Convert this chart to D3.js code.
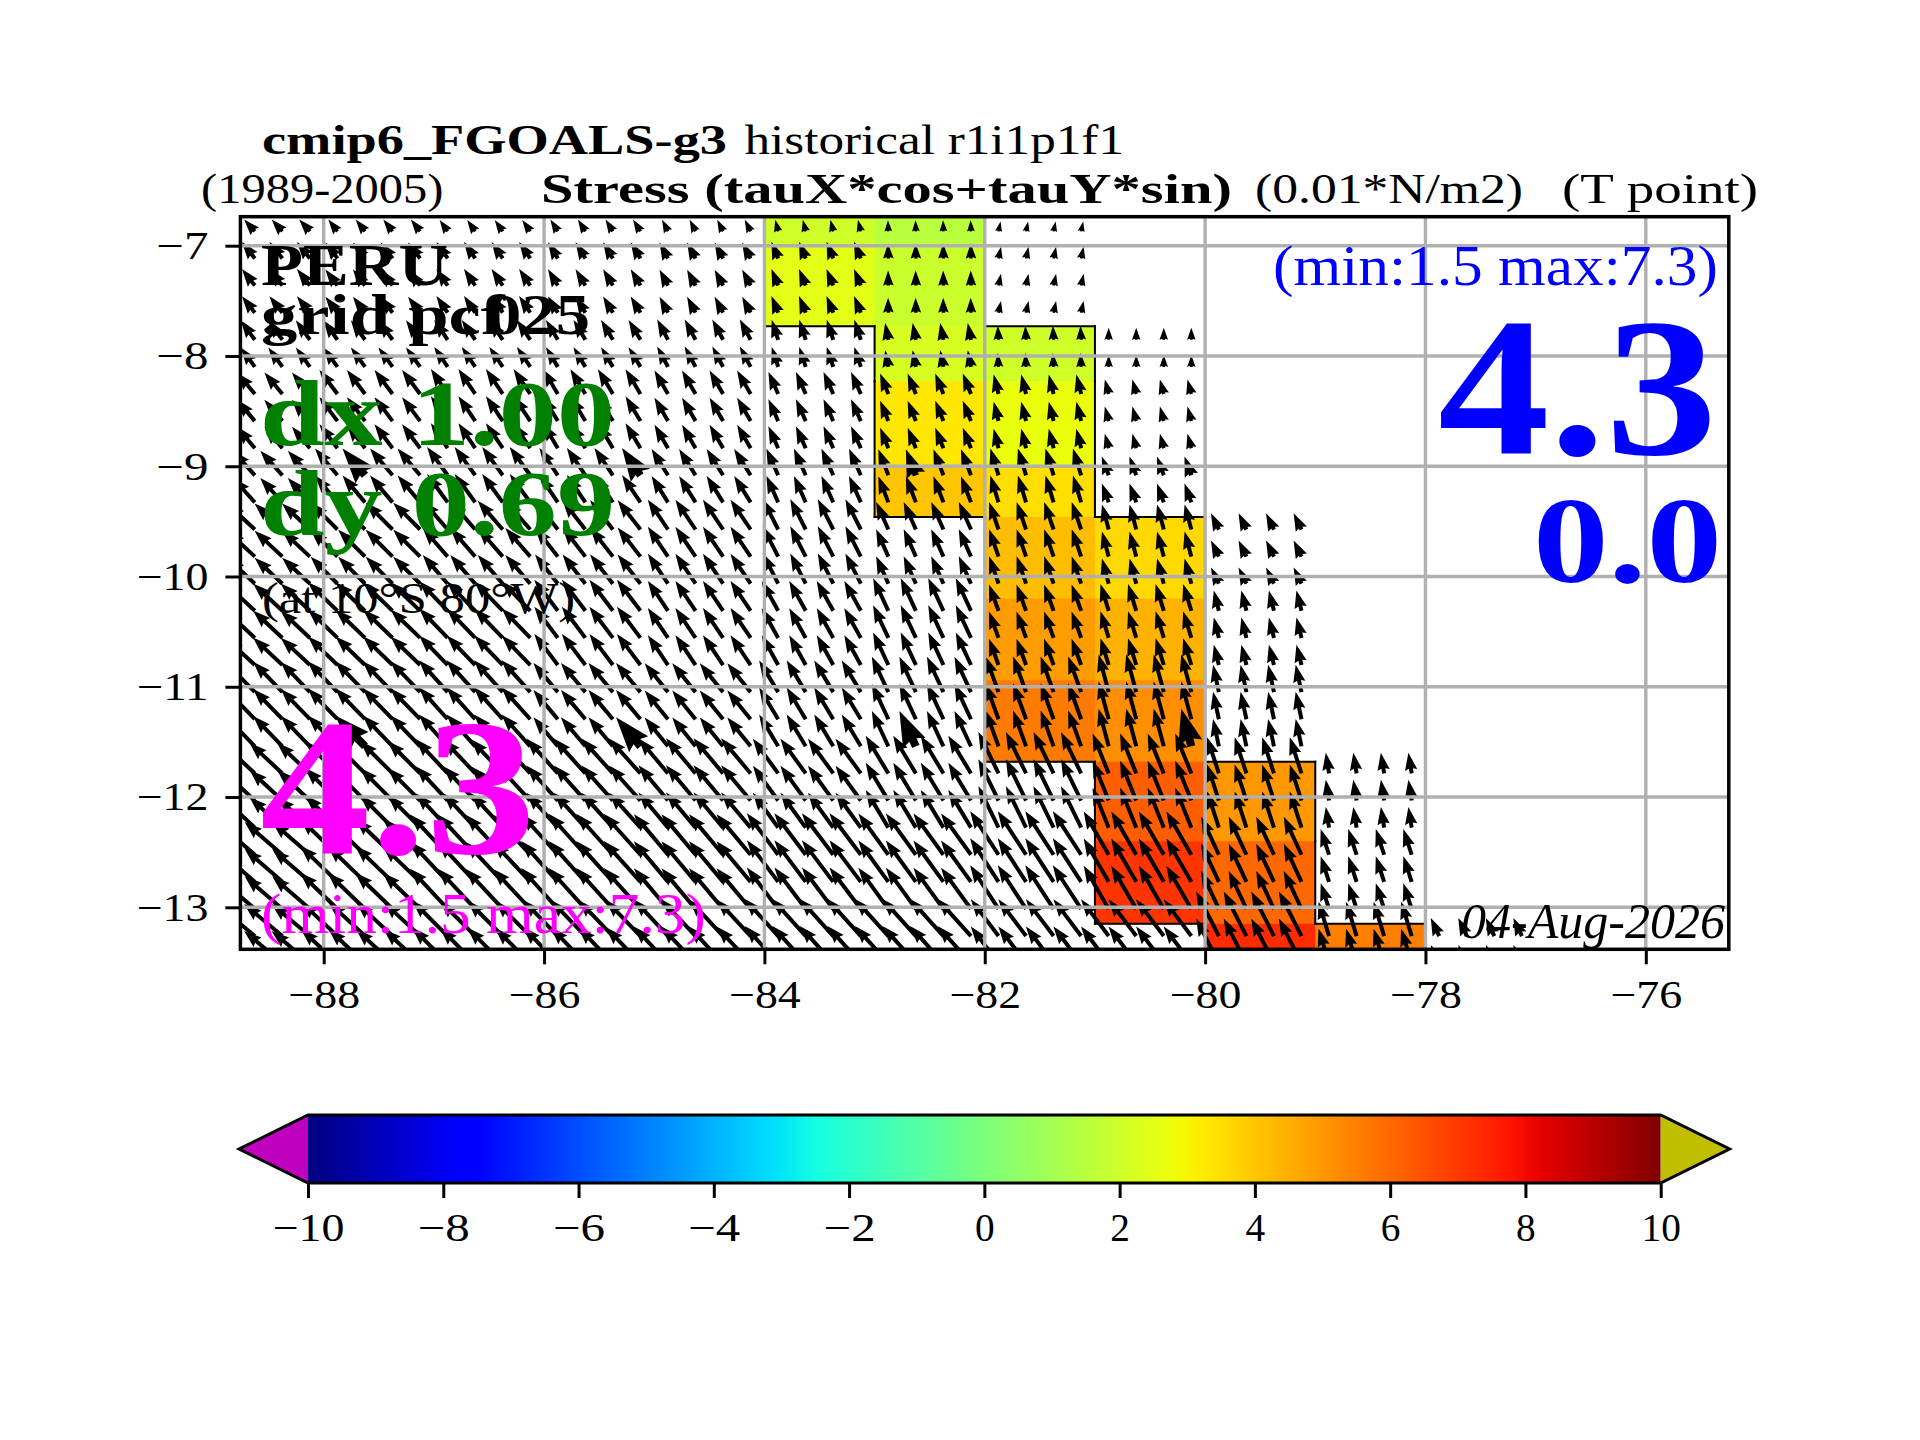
<!DOCTYPE html>
<html>
<head>
<meta charset="utf-8">
<script src="https://cdn.jsdelivr.net/npm/d3@7"></script>
<style>
  body { margin: 0; background: #fff; }
  text { font-family: "Liberation Serif", serif; }
</style>
</head>
<body>
<div id="chart"></div>
<script>
// Values. Rows are latitude bands, columns are 1 degree blocks from 89W
const lonTicks = [-88, -86, -84, -82, -80, -78, -76];
const latTicks = [-7, -8, -9, -10, -11, -12, -13];
const barTicks = [-10, -8, -6, -4, -2, 0, 2, 4, 6, 8, 10];
const bandEdges = [-6.5, -6.98, -7.73, -8.23, -8.99, -9.46, -10.2, -10.94, -11.68, -12.4, -13.15, -13.8];
const rowsPerBand = [1, 3, 2, 3, 2, 3, 3, 3, 3, 3, 2];
const bigRows = [9, 19];
const bigLons = [-87.625, -85.125, -82.625, -80.125];

// stress along the coast (0.01 N/m2), null = no colour
const stressValue = [
  [null, null, null, null, null, 2.0, 1.5],
  [null, null, null, null, null, 2.5, 1.9],
  [null, null, null, null, null, null, 2.2, 2.0],
  [null, null, null, null, null, null, 3.3, 2.7],
  [null, null, null, null, null, null, 4.0, 3.5],
  [null, null, null, null, null, null, null, 4.2, 3.6],
  [null, null, null, null, null, null, null, 4.9, 4.4],
  [null, null, null, null, null, null, null, 5.6, 5.2],
  [null, null, null, null, null, null, null, null, 6.2, 5.0],
  [null, null, null, null, null, null, null, null, 7.1, 6.0],
  [null, null, null, null, null, null, null, null, null, 7.3, 5.5]
];

// arrow magnitude
const arrowSpeed = [
  [1.6, 1.5, 1.4, 1.4, 1.3, 1.2, 1.1, 1.0],
  [2.1, 2.0, 2.0, 1.9, 1.8, 1.8, 1.5, 1.2],
  [2.4, 2.4, 2.4, 2.3, 2.3, 2.1, 1.7, 1.4, 1.2],
  [2.8, 3.0, 3.0, 2.9, 2.7, 2.4, 2.2, 2.0, 1.5],
  [3.3, 3.5, 3.5, 3.3, 3.1, 2.9, 2.8, 2.8, 2.0],
  [3.8, 3.8, 3.8, 3.7, 3.6, 3.4, 3.0, 2.9, 2.6, 1.8],
  [4.0, 4.1, 4.1, 3.9, 3.6, 3.4, 3.6, 2.8, 2.8, 2.1],
  [4.2, 4.3, 4.3, 3.8, 3.7, 3.7, 3.9, 3.8, 3.9, 2.8],
  [4.5, 4.6, 4.7, 4.7, 4.6, 4.3, 4.4, 4.6, 4.3, 3.8, 2.1],
  [5.0, 5.2, 5.5, 5.5, 5.3, 5.2, 5.1, 5.2, 5.0, 4.2, 2.7],
  [5.0, 5.0, 5.0, 5.0, 5.0, 5.0, 5.0, 4.6, 4.6, 5.0, 3.6, 2.0]
];

// arrow direction, degrees west of north
const arrowAngle = [
  [42, 38, 35, 32, 27, 14, 2, -12],
  [38, 37, 34, 31, 28, 22, 1, -12],
  [36, 36, 34, 31, 28, 18, 11, 3, 0],
  [40, 37, 34, 31, 30, 24, 22, 14, 15],
  [42, 40, 36, 34, 32, 24, 21, 17, 20],
  [47, 45, 41, 38, 34, 27, 24, 19, 15, 26],
  [47, 46, 44, 37, 34, 29, 25, 20, 17, 14],
  [44, 44, 42, 40, 39, 31, 25, 20, 15, 12],
  [47, 45, 43, 42, 40, 36, 31, 26, 22, 18, 9],
  [49, 46, 43, 42, 40, 37, 36, 33, 30, 25, 18],
  [50, 47, 45, 44, 43, 42, 42, 37, 37, 27, 17, 25]
];

const width = 1920, height = 1440;
const plot = { left: 240.4, right: 1728.8, top: 216.7, bottom: 949.3 };
const bar = { left: 308, right: 1660.7, top: 1115, bottom: 1183, tipLeft: 239, tipRight: 1729.6 };
const gridColor = "#b0b0b0";
const quiverScale = 10; // px per unit
const shaft = 4;

const svg = d3.select("#chart").append("svg").attr("width", width).attr("height", height);

const x = d3.scaleLinear().domain([-88, -76]).range([323.7, 1645.8]);
const y = d3.scaleLinear().domain([-7, -13]).range([245.7, 907.3]);

// matplotlib jet
const jetR = d3.scaleLinear().domain([0, 0.35, 0.66, 0.89, 1]).range([0, 0, 255, 255, 127.5]);
const jetG = d3.scaleLinear().domain([0, 0.125, 0.375, 0.64, 0.91, 1]).range([0, 0, 255, 255, 0, 0]);
const jetB = d3.scaleLinear().domain([0, 0.11, 0.34, 0.65, 1]).range([127.5, 255, 255, 0, 0]);
const norm = d3.scaleLinear().domain([-10, 10]).range([0, 1]);
function jet(v) {
    const t = norm(v);
    return d3.rgb(jetR(t), jetG(t), jetB(t)).formatHex();
}

svg.append("clipPath").attr("id", "plot-clip").append("rect")
    .attr("x", plot.left).attr("y", plot.top)
    .attr("width", plot.right - plot.left).attr("height", plot.bottom - plot.top);

const inside = svg.append("g").attr("clip-path", "url(#plot-clip)");

// Coloured cells
const cells = [];
stressValue.forEach((row, b) => row.forEach((v, c) => {
    if (v !== null) cells.push({ band: b, block: c, value: v });
}));
inside.append("g").selectAll("rect")
    .data(cells)
    .enter()
    .append("rect")
    .attr("x", d => x(-89 + d.block))
    .attr("y", d => y(bandEdges[d.band]))
    .attr("width", d => x(-88 + d.block) - x(-89 + d.block) + 0.5)
    .attr("height", d => y(bandEdges[d.band + 1]) - y(bandEdges[d.band]) + 0.5)
    .attr("fill", d => jet(d.value));

// Black staircase round the coloured cells
function hasCell(b, c) {
    const row = stressValue[b];
    return row !== undefined && row[c] !== undefined && row[c] !== null;
}
const outline = [];
cells.forEach(d => {
    const x0 = -89 + d.block, x1 = x0 + 1;
    const y0 = bandEdges[d.band], y1 = bandEdges[d.band + 1];
    if (!hasCell(d.band, d.block - 1)) outline.push([x0, y0, x0, y1]);
    if (!hasCell(d.band, d.block + 1)) outline.push([x1, y0, x1, y1]);
    if (!hasCell(d.band - 1, d.block)) outline.push([x0, y0, x1, y0]);
    if (!hasCell(d.band + 1, d.block)) outline.push([x0, y1, x1, y1]);
});
inside.append("g").selectAll("line")
    .data(outline)
    .enter()
    .append("line")
    .attr("x1", d => x(d[0])).attr("y1", d => y(d[1]))
    .attr("x2", d => x(d[2])).attr("y2", d => y(d[3]))
    .attr("stroke", "#000")
    .attr("stroke-width", 2)
    .attr("stroke-linecap", "square");

// Arrows: every 1 degree block holds 4 x 4 or so grid points with the same vector
const rowBand = [];
rowsPerBand.forEach((n, b) => d3.range(n).forEach(() => rowBand.push(b)));
const colLons = d3.range(-88.625, -76.9, 0.25);
const arrows = [];
rowBand.forEach((b, k) => {
    const lat = -6.87 - 0.2458 * k;
    colLons.forEach(lon => {
        const c = Math.floor(lon + 89);
        if (arrowSpeed[b][c] === undefined) return;
        arrows.push({
            lon: lon,
            lat: lat,
            speed: arrowSpeed[b][c],
            angle: arrowAngle[b][c],
            big: bigRows.includes(k) && bigLons.includes(lon)
        });
    });
});

function arrowPath(d) {
    const w = d.big ? shaft * 2 : shaft;
    const len = d.speed * quiverScale;
    const headLen = 4.4 * w, headBack = 4 * w, headW = 3.1 * w;
    const s = Math.min(1, len / headLen);
    const pts = [
        [-w / 2 * s, 0],
        [-w / 2 * s, -(len - headBack * s)],
        [-headW / 2 * s, -(len - headLen * s)],
        [0, -len],
        [headW / 2 * s, -(len - headLen * s)],
        [w / 2 * s, -(len - headBack * s)],
        [w / 2 * s, 0]
    ];
    return "M" + pts.map(p => p[0].toFixed(2) + "," + p[1].toFixed(2)).join("L") + "Z";
}

inside.append("g").selectAll("path")
    .data(arrows)
    .enter()
    .append("path")
    .attr("d", arrowPath)
    .attr("transform", d => `translate(${x(d.lon)},${y(d.lat)}) rotate(${-d.angle})`)
    .attr("fill", "#000");

// Grid sits on top of the arrows
inside.append("g").selectAll("line")
    .data(lonTicks)
    .enter()
    .append("line")
    .attr("x1", d => x(d)).attr("x2", d => x(d))
    .attr("y1", plot.top).attr("y2", plot.bottom)
    .attr("stroke", gridColor).attr("stroke-width", 3.4);
inside.append("g").selectAll("line")
    .data(latTicks)
    .enter()
    .append("line")
    .attr("y1", d => y(d)).attr("y2", d => y(d))
    .attr("x1", plot.left).attr("x2", plot.right)
    .attr("stroke", gridColor).attr("stroke-width", 3.4);

// Axes
function styleAxis(g) {
    g.select(".domain").remove();
    g.selectAll(".tick line").attr("stroke", "#000").attr("stroke-width", 3);
    g.selectAll(".tick text")
        .attr("fill", "#000")
        .attr("font-size", 40)
        .attr("lengthAdjust", "spacingAndGlyphs")
        .attr("textLength", function() {
            const s = d3.select(this).text();
            const digits = s.replace("\u2212", "").length;
            return (s.includes("\u2212") ? 0.76 : 0) * 42.7 + digits * 0.46 * 42.7;
        });
}

svg.append("g")
    .attr("transform", `translate(0,${plot.bottom})`)
    .call(d3.axisBottom(x).tickValues(lonTicks).tickFormat(d3.format("d")).tickSize(15).tickPadding(15).tickSizeOuter(0))
    .call(styleAxis);
svg.append("g")
    .attr("transform", `translate(${plot.left},0)`)
    .call(d3.axisLeft(y).tickValues(latTicks).tickFormat(d3.format("d")).tickSize(15).tickPadding(17).tickSizeOuter(0))
    .call(styleAxis);

// Colour bar
const barX = d3.scaleLinear().domain([-10, 10]).range([bar.left, bar.right]);
const barMid = (bar.top + bar.bottom) / 2;
const barGrad = svg.append("linearGradient").attr("id", "jet-bar");
barGrad.selectAll("stop")
    .data(d3.range(-10, 10.01, 0.25))
    .enter()
    .append("stop")
    .attr("offset", d => norm(d))
    .attr("stop-color", d => jet(d));
svg.append("rect")
    .attr("x", bar.left).attr("y", bar.top)
    .attr("width", bar.right - bar.left).attr("height", bar.bottom - bar.top)
    .attr("fill", "url(#jet-bar)");
svg.append("path")
    .attr("d", `M${bar.left},${bar.top}L${bar.tipLeft},${barMid}L${bar.left},${bar.bottom}Z`)
    .attr("fill", "#bf00bf");
svg.append("path")
    .attr("d", `M${bar.right},${bar.top}L${bar.tipRight},${barMid}L${bar.right},${bar.bottom}Z`)
    .attr("fill", "#bfbf00");
svg.append("path")
    .attr("d", `M${bar.left},${bar.top}L${bar.right},${bar.top}L${bar.tipRight},${barMid}L${bar.right},${bar.bottom}L${bar.left},${bar.bottom}L${bar.tipLeft},${barMid}Z`)
    .attr("fill", "none")
    .attr("stroke", "#000")
    .attr("stroke-width", 3);
svg.append("g")
    .attr("transform", `translate(0,${bar.bottom})`)
    .call(d3.axisBottom(barX).tickValues(barTicks).tickFormat(d3.format("d")).tickSize(15).tickPadding(15).tickSizeOuter(0))
    .call(styleAxis);

// Plot frame
svg.append("rect")
    .attr("x", plot.left).attr("y", plot.top)
    .attr("width", plot.right - plot.left).attr("height", plot.bottom - plot.top)
    .attr("fill", "none").attr("stroke", "#000").attr("stroke-width", 3.5);

// Text
function label(str, x0, x1, base, size, color, weight, style) {
    return svg.append("text")
        .attr("x", x0).attr("y", base)
        .attr("font-size", size)
        .attr("fill", color || "#000")
        .attr("font-weight", weight || "normal")
        .attr("font-style", style || "normal")
        .attr("lengthAdjust", "spacingAndGlyphs")
        .attr("textLength", x1 - x0)
        .text(str);
}

label("cmip6_FGOALS-g3", 262, 727, 153.5, 42, "#000", "bold");
label("historical r1i1p1f1", 744.5, 1124, 153.5, 42);
label("(1989-2005)", 201, 443.5, 203, 42);
label("Stress (tauX*cos+tauY*sin)", 541, 1232, 203, 42, "#000", "bold");
label("(0.01*N/m2)", 1255, 1523, 203, 42);
label("(T point)", 1562, 1758, 203, 42);

label("PERU", 261, 448, 285, 60, "#000", "bold");
const gridText = svg.append("text")
    .attr("y", 333.5)
    .attr("font-size", 58)
    .attr("font-weight", "bold")
    .attr("lengthAdjust", "spacingAndGlyphs");
gridText.append("tspan").attr("x", 261).attr("textLength", 244).attr("lengthAdjust", "spacingAndGlyphs").text("grid pcf");
gridText.append("tspan").attr("x", 487).attr("textLength", 103).attr("lengthAdjust", "spacingAndGlyphs").text("025");

label("dx 1.00", 260, 615, 445, 94, "green", "bold");
label("dy 0.69", 260, 615, 535, 94, "green", "bold");
label("(at 10\u00b0S 80\u00b0W)", 262, 575, 613, 45);

label("4.3", 260, 536, 853, 195, "#ff00ff", "bold");
label("(min:1.5 max:7.3)", 261, 706, 933, 56, "#ff00ff");

label("(min:1.5 max:7.3)", 1273, 1718, 285, 56, "#0000ff");
label("4.3", 1438, 1717, 454, 197, "#0000ff", "bold");
label("0.0", 1533, 1722, 581.5, 122, "#0000ff", "bold");

label("04-Aug-2026", 1461, 1725, 938, 50, "#000", "normal", "italic");
</script>
</body>
</html>
